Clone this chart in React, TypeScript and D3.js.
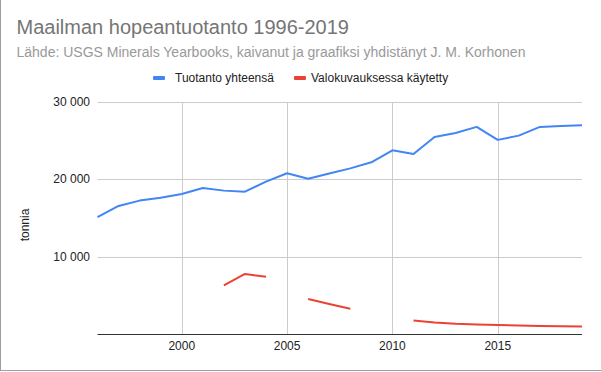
import React from 'react'
import * as d3 from 'd3'

// world silver production, tonnes
const years = d3.range(1996, 2020)
const totalProduction = [
  15100, 16560, 17250, 17630, 18110, 18890, 18540, 18410, 19700, 20780, 20070, 20750,
  21420, 22200, 23750, 23280, 25480, 26000, 26780, 25100, 25650, 26780, 26900, 26990
]
const photography = [
  null, null, null, null, null, null, 6290, 7760, 7410, null, 4530, 3880,
  3270, null, null, 1760, 1500, 1330, 1240, 1160, 1110, 1030, 990, 980
]
const yTicks = [10000, 20000, 30000]
const xTicks = [2000, 2005, 2010, 2015]
const seriesNames = ['Tuotanto yhteensä', 'Valokuvauksessa käytetty']
const seriesColors = ['#4285f4', '#ea4335']

const width = 601
const height = 372
const font = '"Liberation Sans", Arial, sans-serif'

export default function App () {
  const x = d3.scaleLinear().domain([1996, 2019]).range([97.5, 582])
  const y = d3.scaleLinear().domain([0, 30000]).range([334, 102])

  const line = d3.line<number | null>()
    .defined((d) => d !== null)
    .x((d, i) => x(years[i]))
    .y((d) => y(d as number))

  const fmt = (v: number) => d3.format(',')(v).replace(/,/g, ' ')

  return (
    <svg width={width} height={height} style={{ position: 'absolute', left: 0, top: 0, background: '#fff' }} fontFamily={font}>
      <rect x={0} y={0} width={width} height={height} fill='#fff' />
      {/* frame: left and bottom edges */}
      <line x1={0.5} y1={0} x2={0.5} y2={371} stroke='#9e9e9e' />
      <line x1={0} y1={370.5} x2={width} y2={370.5} stroke='#9e9e9e' />

      <text x={16.5} y={33.5} fontSize={20} fill='#757575'>Maailman hopeantuotanto 1996-2019</text>
      <text x={16.5} y={56.5} fontSize={14} fill='#999'>Lähde: USGS Minerals Yearbooks, kaivanut ja graafiksi yhdistänyt J. M. Korhonen</text>

      {/* legend */}
      <g fontSize={12} fill='#222'>
        <rect x={153} y={76} width={12} height={4} rx={1} fill={seriesColors[0]} />
        <text x={175} y={82}>{seriesNames[0]}</text>
        <rect x={294} y={76} width={12} height={4} rx={1} fill={seriesColors[1]} />
        <text x={311} y={82}>{seriesNames[1]}</text>
      </g>

      {/* grid */}
      {yTicks.map((t) => (
        <g key={t}>
          <line x1={x.range()[0]} x2={x.range()[1]} y1={Math.round(y(t)) + 0.5} y2={Math.round(y(t)) + 0.5} stroke='#ccc' />
          <text x={90} y={y(t) + 4} fontSize={12} textAnchor='end' fill='#222'>{fmt(t)}</text>
        </g>
      ))}
      {xTicks.map((t) => (
        <g key={t}>
          <line x1={Math.round(x(t)) + 0.5} x2={Math.round(x(t)) + 0.5} y1={y(30000)} y2={y(0)} stroke='#ccc' />
          <text x={x(t)} y={350} fontSize={12} textAnchor='middle' fill='#222'>{t}</text>
        </g>
      ))}
      <line x1={x.range()[0]} x2={x.range()[1]} y1={y(0) + 0.5} y2={y(0) + 0.5} stroke='#333' />

      <text transform={`translate(29,225) rotate(-90)`} fontSize={12} textAnchor='middle' fill='#222'>tonnia</text>

      <path d={line(totalProduction) || ''} fill='none' stroke={seriesColors[0]} strokeWidth={2} strokeLinejoin='round' />
      <path d={line(photography) || ''} fill='none' stroke={seriesColors[1]} strokeWidth={2} strokeLinejoin='round' />
    </svg>
  )
}
